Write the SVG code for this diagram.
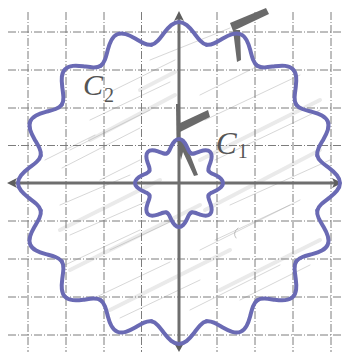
<svg xmlns="http://www.w3.org/2000/svg" xmlns:xlink="http://www.w3.org/1999/xlink" width="343" height="352" viewBox="0 0 343 352">
<defs>
<style>
.grid{stroke:#7c7c7c;stroke-width:1;stroke-dasharray:8 2 1 2;fill:none}
.axis{stroke:#6e6e6e;stroke-width:3;fill:none}
.arrow{fill:#5e5e5e}
.curve{stroke:#6a6ab4;stroke-width:4;fill:none;stroke-linecap:round;stroke-linejoin:round}
.shade{stroke:#9a9a9a;stroke-width:1;fill:none;opacity:0.4;stroke-linecap:round}
.shade2{stroke:#c4c4c4;stroke-width:4;fill:none;opacity:0.35;stroke-linecap:round}
.scrib{fill:#6a6a6a}
.lbl{font-family:"Liberation Serif","DejaVu Serif",serif;font-style:italic;fill:#555}
.sub{font-family:"Liberation Serif","DejaVu Serif",serif;fill:#555}
</style>
<path id="lobe2" class="curve" d="M138.29,-27.51 C138.74,-25.25 140.19,-23.18 142.37,-21.12 C144.55,-19.06 147.42,-17.00 150.27,-14.80 C153.12,-12.60 155.90,-10.25 157.88,-7.76 C159.86,-5.26 161,-2.63 161,0 C161,2.63 159.86,5.26 157.88,7.76 C155.90,10.25 153.12,12.60 150.27,14.80 C147.42,17.00 144.55,19.06 142.37,21.12 C140.19,23.18 138.74,25.25 138.29,27.51"/>
<path id="lobe1" class="curve" d="M29.56,-12.25 C29.96,-11.28 30.93,-10.54 32.31,-9.80 C33.69,-9.07 35.49,-8.33 37.27,-7.41 C39.05,-6.50 40.80,-5.41 42.04,-4.14 C43.28,-2.87 44,-1.44 44,0 C44,1.44 43.28,2.87 42.04,4.14 C40.80,5.41 39.05,6.50 37.27,7.41 C35.49,8.33 33.69,9.07 32.31,9.80 C30.93,10.54 29.96,11.28 29.56,12.25"/>
</defs>
<rect width="343" height="352" fill="#ffffff"/>
<g id="shading">
<path class="shade2" d="M60,230 L160,180 M70,270 L200,205 M200,160 L320,100 M205,210 L320,150 M90,140 L175,95 M110,310 L230,250 M220,290 L320,240 M140,90 L175,72"/>
<path class="shade" d="M70,150 L150,110 M62,168 L140,128 M90,120 L170,82 M110,92 L175,60 M200,95 L260,65 M205,120 L300,75 M215,160 L320,110 M230,205 L330,160 M60,205 L130,175 M70,235 L150,200 M200,250 L300,200 M90,300 L170,262 M120,318 L200,280 M190,310 L280,265 M65,265 L140,230 M150,60 L230,28 M215,240 L290,205 M100,180 L140,160 M45,160 L95,135 M110,250 L170,222 M240,300 L310,265"/>
<path class="shade" d="M238,228 Q232,233 236,238" style="opacity:0.6"/>
</g>
<g id="grid">
<path class="grid" d="M28,12 V352 M66,12 V352 M104,12 V352 M141.5,12 V352 M217,12 V352 M255,12 V352 M293,12 V352 M331,12 V352"/>
<path class="grid" d="M8,32 H343 M8,70 H343 M8,108 H343 M8,145.5 H343 M8,221 H343 M8,259 H343 M8,297 H343 M8,335 H343"/>
</g>
<g id="connectors">
<g id="x-axis">
<path class="axis" d="M14,183 H335"/>
<polygon class="arrow" points="7,183 17,178 14.5,183 17,188"/>
<polygon class="arrow" points="342,183 332,178 334.5,183 332,188"/>
</g>
<g id="y-axis">
<path class="axis" d="M179,18 V345"/>
<polygon class="arrow" points="179,11 184,21 179,18.5 174,21"/>
<polygon class="arrow" points="179,352 184,343 179,345.5 174,343"/>
</g>
</g>
<g id="scribbles">
<polygon class="scrib" points="176,104 180,104 180.5,142 176.5,142"/>
<polygon class="scrib" points="178,124 208,110 210,117 180,132"/>
<polygon class="scrib" points="177,137 184,139 198,175 194,176 183,152 181,160 179,150"/>
<polygon class="scrib" points="230,23 266,8 269,14 233,31"/>
<polygon class="scrib" points="233,30 240,30 241,60 237,62"/>
</g>
<g id="C2">
<use xlink:href="#lobe2" transform="translate(179,183)"/>
<use xlink:href="#lobe2" transform="translate(179,183) rotate(22.5)"/>
<use xlink:href="#lobe2" transform="translate(179,183) rotate(45)"/>
<use xlink:href="#lobe2" transform="translate(179,183) rotate(67.5)"/>
<use xlink:href="#lobe2" transform="translate(179,183) rotate(90)"/>
<use xlink:href="#lobe2" transform="translate(179,183) rotate(112.5)"/>
<use xlink:href="#lobe2" transform="translate(179,183) rotate(135)"/>
<use xlink:href="#lobe2" transform="translate(179,183) rotate(157.5)"/>
<use xlink:href="#lobe2" transform="translate(179,183) rotate(180)"/>
<use xlink:href="#lobe2" transform="translate(179,183) rotate(202.5)"/>
<use xlink:href="#lobe2" transform="translate(179,183) rotate(225)"/>
<use xlink:href="#lobe2" transform="translate(179,183) rotate(247.5)"/>
<use xlink:href="#lobe2" transform="translate(179,183) rotate(270)"/>
<use xlink:href="#lobe2" transform="translate(179,183) rotate(292.5)"/>
<use xlink:href="#lobe2" transform="translate(179,183) rotate(315)"/>
<use xlink:href="#lobe2" transform="translate(179,183) rotate(337.5)"/>
<text class="lbl" x="83" y="95" font-size="30">C<tspan class="sub" font-size="20" dx="1" dy="7" font-style="normal">2</tspan></text>
</g>
<g id="C1">
<use xlink:href="#lobe1" transform="translate(179,183)"/>
<use xlink:href="#lobe1" transform="translate(179,183) rotate(45)"/>
<use xlink:href="#lobe1" transform="translate(179,183) rotate(90)"/>
<use xlink:href="#lobe1" transform="translate(179,183) rotate(135)"/>
<use xlink:href="#lobe1" transform="translate(179,183) rotate(180)"/>
<use xlink:href="#lobe1" transform="translate(179,183) rotate(225)"/>
<use xlink:href="#lobe1" transform="translate(179,183) rotate(270)"/>
<use xlink:href="#lobe1" transform="translate(179,183) rotate(315)"/>
<text class="lbl" x="216" y="154" font-size="31">C<tspan class="sub" font-size="20" dx="1" dy="4" font-style="normal">1</tspan></text>
</g>
</svg>
